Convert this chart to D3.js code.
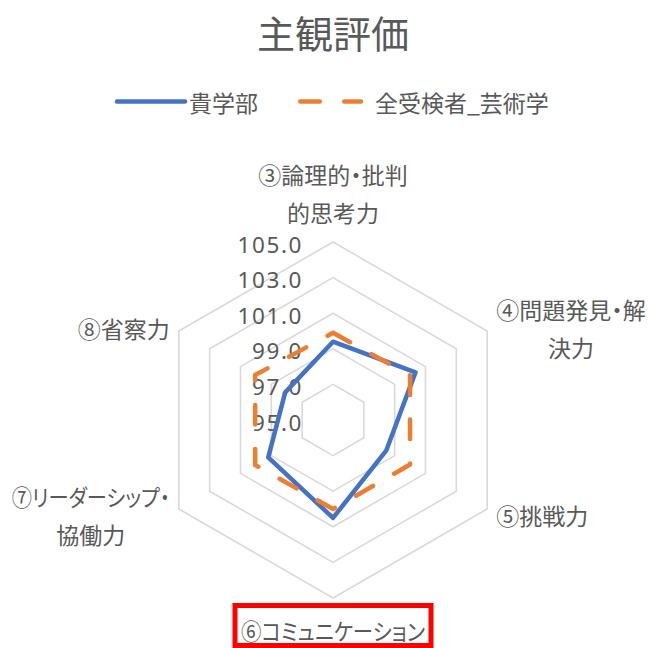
<!DOCTYPE html>
<html><head><meta charset="utf-8">
<script src="https://cdn.jsdelivr.net/npm/d3@7"></script>
<style>
body{margin:0;background:#fff}
svg text{font-family:"Noto Sans CJK JP","Noto Sans",sans-serif;fill:#595959;font-feature-settings:"palt";}
</style>
</head><body><svg id="c" width="656" height="648"></svg>
<script>
// ---- data ----
const title = "主観評価";
const categories = [
  ["③論理的・批判","的思考力"],
  ["④問題発見・解","決力"],
  ["⑤挑戦力"],
  ["⑥コミュニケーション"],
  ["⑦リーダーシップ・","協働力"],
  ["⑧省察力"]
];
const seriesNames = ["貴学部","全受検者_芸術学"];
const ourValues = [99.4, 100.35, 98.45, 100.5, 99.2, 98.1];
const allValues = [99.9, 100.0, 100.0, 100.0, 100.05, 100.05];
const tickValues = [95, 97, 99, 101, 103, 105];
const tickLabels = ["95.0","97.0","99.0","101.0","103.0","105.0"];
const highlightIndex = 3;

// ---- layout ----
const svg = d3.select("#c");
const cx = 333, cy = 420, R = 178;
const n = categories.length;
const step = 2*Math.PI/n;
const rScale = d3.scaleLinear().domain([95,105]).range([0,R]);
const blue = "#4472C4", orange = "#ED7D31";
const maxLineWidth = 158;   // condensed kana lines (as in the original UI font)
const wideLineWidth = 184;

// title
svg.append("text").attr("x",333).attr("y",31).attr("text-anchor","middle")
  .attr("dominant-baseline","central").style("font-size","38px").text(title);

// legend
const lg = svg.append("g");
lg.append("line").attr("x1",117).attr("x2",185).attr("y1",101.5).attr("y2",101.5)
  .attr("stroke",blue).attr("stroke-width",4.5).attr("stroke-linecap","round");
lg.append("text").attr("x",189).attr("y",101.5).attr("dominant-baseline","central")
  .style("font-size","23px").text(seriesNames[0]);
lg.append("line").attr("x1",300.25).attr("x2",361).attr("y1",101.5).attr("y2",101.5)
  .attr("stroke",orange).attr("stroke-width",4.5).attr("stroke-linecap","round")
  .attr("stroke-dasharray","19.5,24.5");
lg.append("text").attr("x",375).attr("y",101.5).attr("dominant-baseline","central")
  .style("font-size","23px").text(seriesNames[1]);

const g = svg.append("g").attr("transform",`translate(${cx},${cy})`);

// grid hexagons
const gridLine = lv => d3.lineRadial().angle((d,i)=>i*step).radius(()=>rScale(lv)).curve(d3.curveLinearClosed);
tickValues.filter(v=>v>95).forEach(v=>{
  g.append("path").attr("d", gridLine(v)(categories)).attr("fill","none")
    .attr("stroke","#D9D9D9").attr("stroke-width",1.6);
});

// tick labels
g.selectAll(".tick").data(tickValues).enter().append("text")
  .attr("x",-30).attr("y",d=>-rScale(d)+2)
  .attr("text-anchor","end").attr("dominant-baseline","central")
  .style("font-family","'Noto Sans',sans-serif").style("font-size","22.5px")
  .style("letter-spacing","1.6px")
  .text((d,i)=>tickLabels[i]);

// series
const radial = d3.lineRadial().angle((d,i)=>i*step).radius(d=>rScale(d)).curve(d3.curveLinearClosed);
g.append("path").attr("d",radial(ourValues)).attr("fill","none").attr("stroke",blue)
  .attr("stroke-width",4.5).attr("stroke-linejoin","round");
g.append("path").attr("d",radial(allValues)).attr("fill","none").attr("stroke",orange)
  .attr("stroke-width",4.5).attr("stroke-linejoin","round").attr("stroke-linecap","round")
  .attr("stroke-dasharray","19.5,24.5");

// category labels
const lineH = 38;
categories.forEach((lines,i)=>{
  const a = i*step;
  const vx = Math.sin(a)*R, vy = -Math.cos(a)*R;
  const s = Math.sin(a), c = Math.cos(a);
  const texts = lines.map(str=>{
    const t = g.append("text").attr("text-anchor","middle").attr("dominant-baseline","central")
      .style("font-size","23px").text(str);
    let w = t.node().getComputedTextLength();
    const limit = (i === highlightIndex) ? wideLineWidth : maxLineWidth;
    if (w > limit) {
      t.attr("textLength",limit).attr("lengthAdjust","spacingAndGlyphs");
      w = limit;
    }
    return {t,w};
  });
  const w = d3.max(texts, d=>d.w);
  let bx, by;
  if (Math.abs(s) < 0.01) {
    bx = 0;
    by = (c > 0) ? vy - 30 - (lines.length-1)*lineH/2 : vy + 32;
  } else {
    bx = vx + Math.sign(s)*(9 + w/2);
    by = vy + (c > 0 ? -3 : 6);
  }
  texts.forEach((d,k)=>{
    d.t.attr("x",bx).attr("y", by + (k-(lines.length-1)/2)*lineH);
  });
  if (i === highlightIndex) {
    const pad = 6;
    g.append("rect").attr("x",bx-w/2-pad).attr("y",by-24.5).attr("width",w+2*pad).attr("height",40)
      .attr("fill","none").attr("stroke","#FF0000").attr("stroke-width",5);
  }
});
</script>
</body></html>
